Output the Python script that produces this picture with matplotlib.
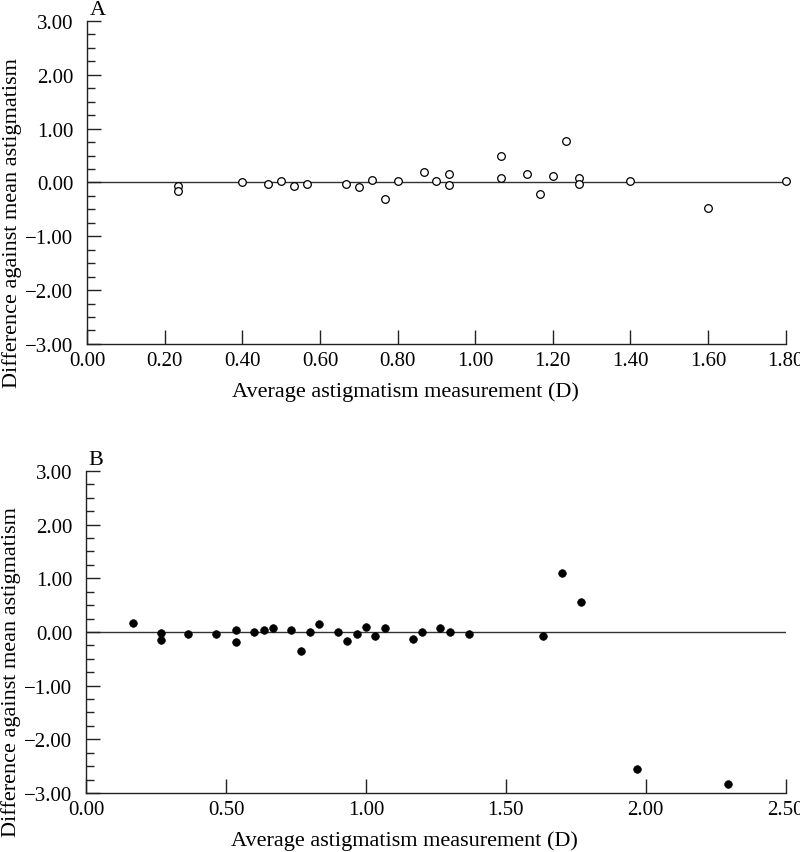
import matplotlib
matplotlib.use("Agg")
import matplotlib.pyplot as plt
from matplotlib.ticker import MultipleLocator, FuncFormatter

# Panel A - open circles
a_x = [0.233, 0.233, 0.40, 0.467, 0.50, 0.533, 0.567, 0.667, 0.70, 0.733,
       0.767, 0.80, 0.867, 0.90, 0.933, 0.933, 1.067, 1.067, 1.133, 1.167,
       1.20, 1.233, 1.267, 1.267, 1.40, 1.60, 1.80]
a_y = [-0.07, -0.16, 0.01, -0.02, 0.02, -0.06, -0.02, -0.02, -0.08, 0.05,
       -0.31, 0.02, 0.19, 0.02, 0.15, -0.05, 0.50, 0.08, 0.16, -0.21,
       0.12, 0.77, 0.09, -0.02, 0.03, -0.48, 0.03]

# Panel B - filled circles
b_x = [0.165, 0.265, 0.265, 0.365, 0.465, 0.535, 0.535, 0.60, 0.635, 0.668,
       0.732, 0.768, 0.80, 0.833, 0.90, 0.933, 0.967, 1.00, 1.033, 1.067,
       1.167, 1.20, 1.265, 1.30, 1.368, 1.633, 1.70, 1.767, 1.967, 2.293]
b_y = [0.17, -0.02, -0.15, -0.03, -0.03, 0.03, -0.19, 0.0, 0.03, 0.07,
       0.03, -0.35, 0.0, 0.14, 0.0, -0.17, -0.03, 0.09, -0.07, 0.07,
       -0.14, 0.0, 0.07, 0.0, -0.04, -0.07, 1.10, 0.56, -2.56, -2.84]

plt.rcParams["font.family"] = ["Liberation Serif", "DejaVu Serif"]

fig = plt.figure(figsize=(8, 8.53), dpi=100)
axA = fig.add_axes([0.109, 0.5956, 0.873, 0.3787])
axB = fig.add_axes([0.108, 0.0692, 0.874, 0.3775])


def fmt(v, pos):
    s = "%.2f" % abs(v)
    return ("\u2212" + s) if v < -1e-9 else s


def style(ax, xmax, xstep, letter):
    ax.set_xlim(0, xmax)
    ax.set_ylim(-3, 3)
    ax.axhline(0, color="#333333", lw=1.0, zorder=1)
    for s in ["top", "right"]:
        ax.spines[s].set_visible(False)
    for s in ["left", "bottom"]:
        ax.spines[s].set_linewidth(1.0)
        ax.spines[s].set_color("#222222")
    ax.yaxis.set_major_locator(MultipleLocator(1))
    ax.yaxis.set_minor_locator(MultipleLocator(0.25))
    ax.xaxis.set_major_locator(MultipleLocator(xstep))
    ax.xaxis.set_major_formatter(FuncFormatter(fmt))
    ax.yaxis.set_major_formatter(FuncFormatter(fmt))
    ax.tick_params(axis="y", which="major", direction="in", length=10,
                   width=1, pad=10, labelsize=15, color="#222222")
    ax.tick_params(axis="y", which="minor", direction="in", length=6,
                   width=1, color="#222222")
    ax.tick_params(axis="x", which="major", direction="in", length=10,
                   width=1, pad=5, labelsize=15, color="#222222")
    ax.set_xlabel("Average astigmatism measurement (D)", fontsize=16)
    ax.set_ylabel("Difference against mean astigmatism", fontsize=16)
    ax.xaxis.set_label_coords(0.455, -0.115)
    ax.yaxis.set_label_coords(-0.093, 0.378)
    ax.text(0.003, 1.035, letter, transform=ax.transAxes, fontsize=16,
            ha="left", va="center")


style(axA, 1.8, 0.2, "A")
style(axB, 2.5, 0.5, "B")

axA.plot(a_x, a_y, "o", ms=5.5, mfc="white", mec="black", mew=0.9,
         clip_on=False, zorder=3)
axB.plot(b_x, b_y, "o", ms=5.5, mfc="black", mec="black", mew=0.5,
         clip_on=False, zorder=3)

fig.savefig("out.png", dpi=100)
